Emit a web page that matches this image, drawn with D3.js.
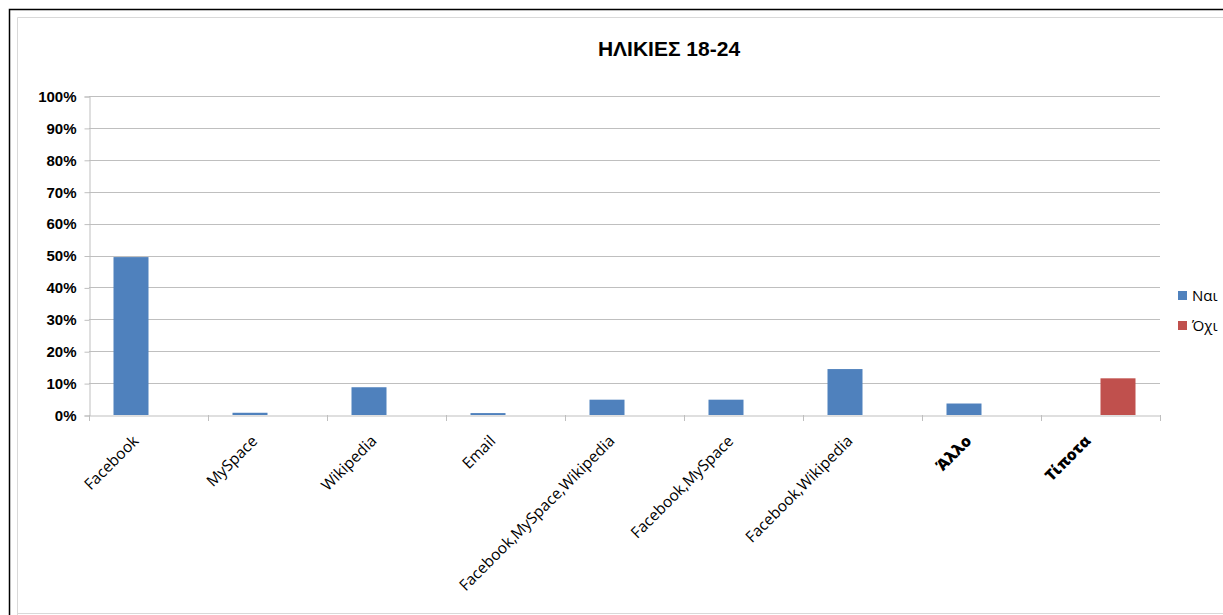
<!DOCTYPE html>
<html><head><meta charset="utf-8">
<script src="https://cdn.jsdelivr.net/npm/d3@7"></script>
<style>body{margin:0;background:#fff}</style>
</head><body>
<script>
const categories = ["Facebook","MySpace","Wikipedia","Email","Facebook,MySpace,Wikipedia","Facebook,MySpace","Facebook,Wikipedia","Άλλο","Τίποτα"];
const seriesNames = ["Ναι","Όχι"];
const valuesNai = [49.5,0.7,8.7,0.6,4.8,4.8,14.4,3.6,0];
const valuesOxi = [0,0,0,0,0,0,0,0,11.5];
const yTicks = [0,10,20,30,40,50,60,70,80,90,100];
const colors = ["#4F81BD","#C0504D"];

const W=1223,H=615;
const svg=d3.select("body").append("svg").attr("width",W).attr("height",H);
// frame
svg.append("path").attr("d","M9.5,615 L9.5,9.5 L1223,9.5").attr("fill","none").attr("stroke","#000").attr("stroke-width",1.5);
svg.append("path").attr("d","M17.5,615 L17.5,17.5 L1223,17.5").attr("fill","none").attr("stroke","#d9d9d9").attr("stroke-width",1);
svg.append("line").attr("x1",17).attr("x2",1223).attr("y1",613.5).attr("y2",613.5).attr("stroke","#d9d9d9");

const pLeft=89,pRight=1160,pTop=96,pBottom=415;
const x=d3.scaleBand().domain(categories).range([pLeft,pRight]);
const y=d3.scaleLinear().domain([0,100]).range([pBottom,pTop]);
const inner=d3.scaleBand().domain(seriesNames).range([0,x.bandwidth()]).paddingInner(0).paddingOuter(0.7);

// gridlines
svg.append("g").selectAll("line").data(yTicks.filter(d=>d>0)).join("line")
 .attr("x1",pLeft).attr("x2",pRight).attr("y1",d=>Math.round(y(d))+0.5).attr("y2",d=>Math.round(y(d))+0.5)
 .attr("stroke","#bfbfbf");

// y axis
const ya=svg.append("g").attr("transform",`translate(${pLeft+0.5},0.5)`)
 .call(d3.axisLeft(y).tickValues(yTicks).tickFormat(d=>d+"%").tickSize(5).tickPadding(8));
ya.select(".domain").attr("stroke","#bfbfbf");
ya.selectAll(".tick line").attr("stroke","#bfbfbf");
ya.selectAll("text").attr("font-family","'Liberation Sans',Arial,sans-serif").attr("font-weight","bold").attr("font-size",15).attr("fill","#000");

// bars
const data=categories.map((c,i)=>({c,vals:[valuesNai[i],valuesOxi[i]]}));
const gb=svg.append("g");
data.forEach(d=>{
  seriesNames.forEach((s,j)=>{
    const v=d.vals[j]; if(!v) return;
    gb.append("rect").attr("x",x(d.c)+inner(s)).attr("width",inner.bandwidth())
      .attr("y",y(v)).attr("height",y(0)-y(v)).attr("fill",colors[j]);
  });
});

// x axis
const xa=svg.append("g").attr("transform",`translate(0,${pBottom+0.5})`)
 .call(d3.axisBottom(x).tickSize(0).tickFormat(""));
xa.select(".domain").attr("stroke","#bfbfbf");
xa.selectAll(".tick").remove();
const bounds=d3.range(categories.length+1).map(i=>pLeft+i*x.step());
svg.append("g").selectAll("line").data(bounds).join("line")
 .attr("x1",d=>Math.round(d)+0.5).attr("x2",d=>Math.round(d)+0.5).attr("y1",pBottom).attr("y2",pBottom+6).attr("stroke","#bfbfbf");

// x labels
svg.append("g").selectAll("text").data(categories).join("text")
 .attr("transform",(d)=>`translate(${x(d)+x.bandwidth()/2-9},${pBottom+27}) rotate(-45)`)
 .attr("text-anchor","end").attr("font-family","'Open Sans',Calibri,sans-serif")
 .attr("font-size",15.5).attr("fill","#000")
 .attr("font-weight",(d,i)=>i>=7?"800":"normal")
 .text(d=>d);

// title
svg.append("text").attr("x",669).attr("y",56).attr("text-anchor","middle")
 .attr("font-family","'Liberation Sans',Arial,sans-serif").attr("font-weight","bold").attr("font-size",21).text("ΗΛΙΚΙΕΣ 18-24");

// legend
const lg=svg.append("g");
seriesNames.forEach((s,j)=>{
  lg.append("rect").attr("x",1178).attr("y",291+j*30).attr("width",9).attr("height",9).attr("fill",colors[j]);
  lg.append("text").attr("x",1192).attr("y",301+j*30).attr("font-family","'Open Sans',Calibri,sans-serif").attr("font-size",15).text(s);
});
</script>
</body></html>
